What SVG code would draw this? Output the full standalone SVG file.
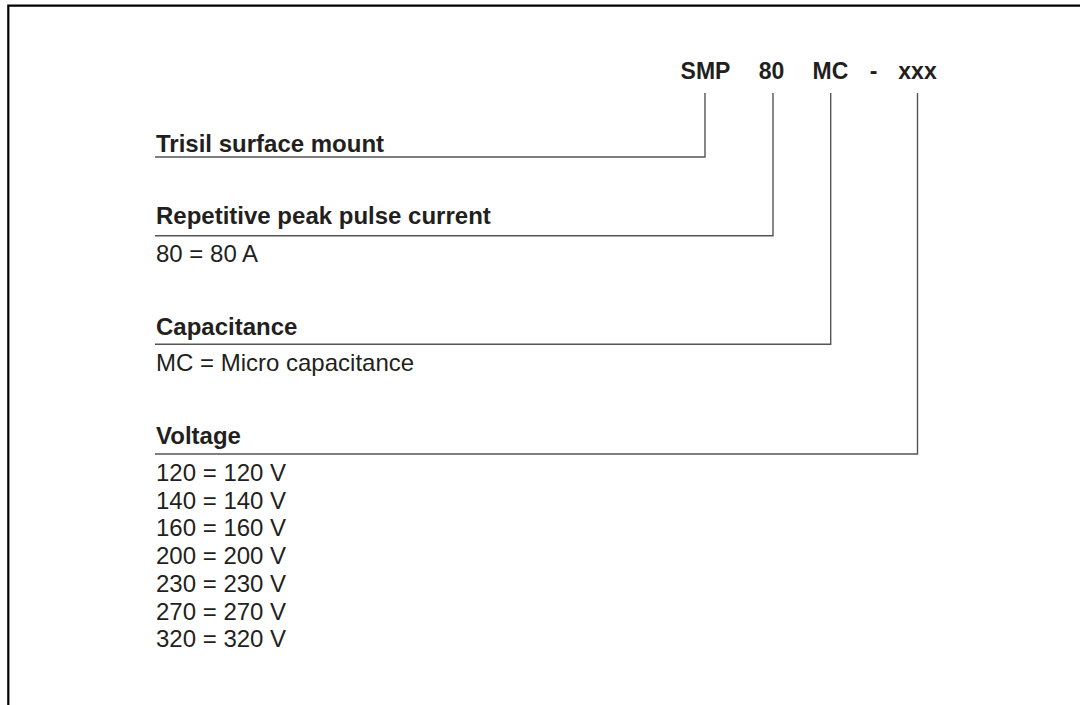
<svg xmlns="http://www.w3.org/2000/svg" width="1080" height="705" viewBox="0 0 1080 705">
<style>
.hdr{font-family:"Liberation Sans",Arial,sans-serif;font-weight:bold;font-size:23px;fill:#231f20;text-anchor:middle}
.lbl{font-family:"Liberation Sans",Arial,sans-serif;font-weight:bold;font-size:24px;fill:#231f20}
.val{font-family:"Liberation Sans",Arial,sans-serif;font-size:24px;fill:#231f20}
.conn{fill:none;stroke:#555;stroke-width:1.4}
</style>
<rect width="1080" height="705" fill="#fff"/>
<path d="M8.3,705 V5.7 H1080" fill="none" stroke="#000" stroke-width="2.2"/>
<g id="code">
<text class="hdr" x="705.5" y="78.5">SMP</text>
<text class="hdr" x="771.5" y="78.5">80</text>
<text class="hdr" x="830.5" y="78.5">MC</text>
<text class="hdr" x="873.5" y="78.5">-</text>
<text class="hdr" x="917.5" y="78.5">xxx</text>
</g>
<g id="connectors">
<path class="conn" d="M705,93 V157 H155"/>
<path class="conn" d="M773,93 V235.7 H155"/>
<path class="conn" d="M830.7,93 V344.3 H155"/>
<path class="conn" d="M917.5,93 V454 H155"/>
</g>
<g id="trisil">
<text class="lbl" x="156" y="152">Trisil surface mount</text>
</g>
<g id="current">
<text class="lbl" x="156" y="224">Repetitive peak pulse current</text>
<text class="val" x="156" y="261.7">80 = 80 A</text>
</g>
<g id="capacitance">
<text class="lbl" x="156" y="335">Capacitance</text>
<text class="val" x="156" y="370.7">MC = Micro capacitance</text>
</g>
<g id="voltage">
<text class="lbl" x="156" y="444">Voltage</text>
<text class="val" x="156" y="481">120 = 120 V</text>
<text class="val" x="156" y="508.7">140 = 140 V</text>
<text class="val" x="156" y="536.4">160 = 160 V</text>
<text class="val" x="156" y="564.1">200 = 200 V</text>
<text class="val" x="156" y="591.8">230 = 230 V</text>
<text class="val" x="156" y="619.5">270 = 270 V</text>
<text class="val" x="156" y="647.2">320 = 320 V</text>
</g>
</svg>
